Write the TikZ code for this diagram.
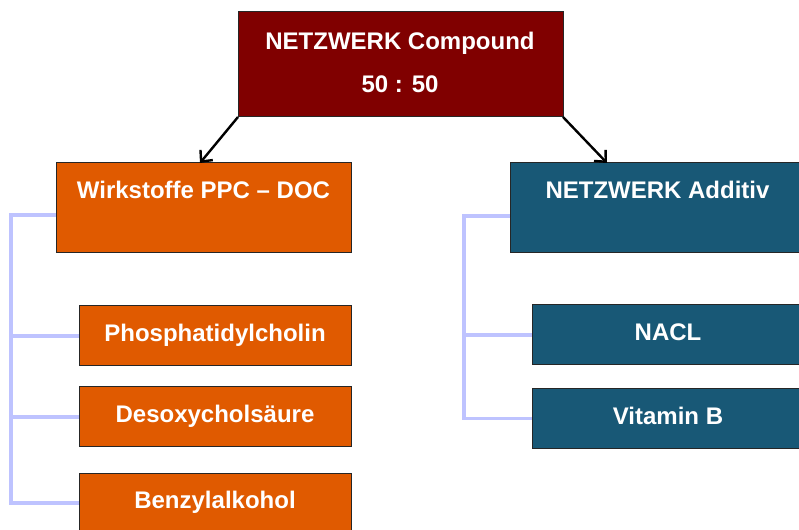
\documentclass[tikz,border=0pt]{standalone}
\usepackage{fontspec}
\setmainfont{Liberation Sans}
\usetikzlibrary{arrows.meta,calc}
\definecolor{maroonbox}{RGB}{128,0,0}
\definecolor{orangebox}{RGB}{224,90,0}
\definecolor{tealbox}{RGB}{24,88,118}
\definecolor{connline}{RGB}{190,195,255}
\tikzset{
  box/.style={draw=black!85, line width=0.75pt, rectangle, inner sep=0pt, outer sep=0pt, text=white, font=\fontsize{18}{22}\selectfont\bfseries, text height=13pt, text depth=4.5pt},
  obox/.style={box, fill=orangebox},
  tbox/.style={box, fill=tealbox},
  lbl/.style={text=white, font=\fontsize{18}{22}\selectfont\bfseries, inner sep=0pt, anchor=center, text height=13pt, text depth=0pt},
  conn/.style={draw=connline, line width=2.4pt},
  arr/.style={draw=black, line width=1.8pt, -{Straight Barb[length=6.5pt,width=12pt]}}
}
\begin{document}
\begin{tikzpicture}[x=0.75pt,y=-0.75pt]
\useasboundingbox (0,0) rectangle (799,530);
\clip (0,0) rectangle (799,530);
% top
\node[box, fill=maroonbox, minimum width=325*0.75pt, minimum height=105*0.75pt] (top) at (400.5,64.5) {};
\node[lbl] (toplbl1) at (400,41) {NETZWERK Compound};
\node[lbl] (toplbl2) at (400,84) {50 : 50};
% left column
\node[obox, minimum width=295*0.75pt, minimum height=90*0.75pt] (wirk) at (203.5,208) {};
\node[lbl] (wirklbl) at (203.5,190) {Wirkstoffe PPC – DOC};
\node[obox, minimum width=272*0.75pt, minimum height=60*0.75pt] (phos) at (215,336) {Phosphatidylcholin};
\node[obox, minimum width=272*0.75pt, minimum height=60*0.75pt] (deso) at (215,417) {Desoxycholsäure};
\node[obox, minimum width=272*0.75pt, minimum height=60*0.75pt] (benz) at (215,503) {Benzylalkohol};
% right column
\node[tbox, minimum width=295*0.75pt, minimum height=90*0.75pt] (addi) at (657.5,208) {};
\node[lbl] (addilbl) at (657.5,190) {NETZWERK Additiv};
\node[tbox, minimum width=272*0.75pt, minimum height=60*0.75pt] (nacl) at (668,335) {NACL};
\node[tbox, minimum width=272*0.75pt, minimum height=60*0.75pt] (vitb) at (668,418.5) {Vitamin B};
% spines
\coordinate (lspine) at (11,215);
\coordinate (rspine) at (464,216);
\draw[conn] ($(wirk.west)+(0,7)$) -- (lspine) -- (lspine |- benz.west) -- (benz.west);
\draw[conn] (lspine |- phos.west) -- (phos.west);
\draw[conn] (lspine |- deso.west) -- (deso.west);
\draw[conn] ($(addi.west)+(0,8)$) -- (rspine) -- (rspine |- vitb.west) -- (vitb.west);
\draw[conn] (rspine |- nacl.west) -- (nacl.west);
% arrows
\draw[arr] (top.south west) -- ($(wirk.north west)+(144,0)$);
\draw[arr] (top.south east) -- ($(addi.north west)+(97,0)$);
\end{tikzpicture}
\end{document}
